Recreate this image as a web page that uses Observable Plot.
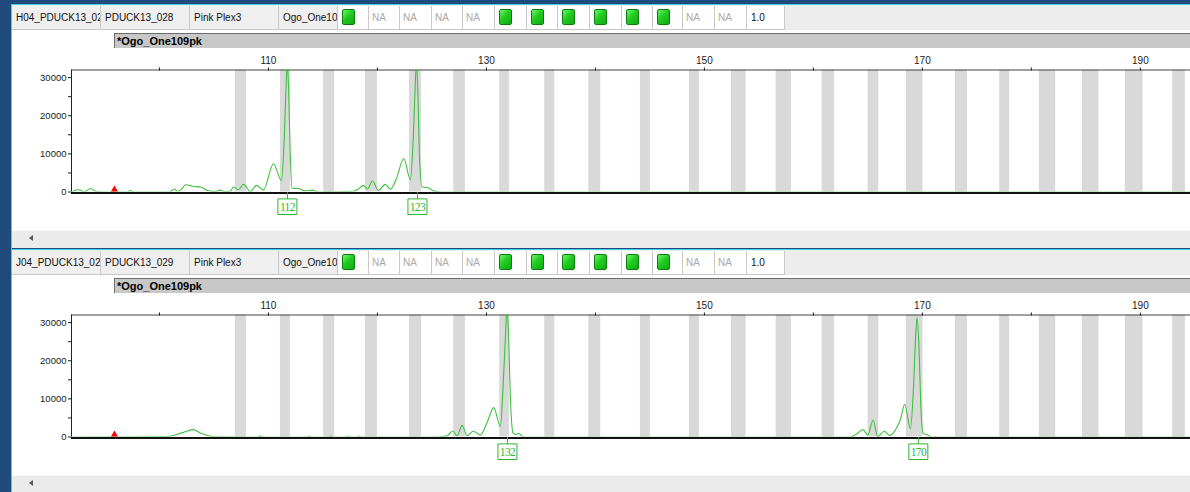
<!DOCTYPE html>
<html>
<head>
<meta charset="utf-8">
<script src="https://cdn.jsdelivr.net/npm/d3@7"></script>
<script src="https://cdn.jsdelivr.net/npm/@observablehq/plot@0.6"></script>
<style>
  body { margin:0; width:1190px; height:492px; background:#1f4a7c; position:relative; overflow:hidden;
         font-family:"Liberation Sans", Arial, sans-serif; }
  .abs { position:absolute; box-sizing:border-box; }
  .cell { position:absolute; box-sizing:border-box; height:24px; top:1px; border-right:1px solid #c9c9c9;
          border-bottom:1px solid #c9c9c9; font-size:10px; line-height:23px; padding-left:4px;
          white-space:nowrap; overflow:hidden; color:#111; }
  .grey { background:#efefef; }
  .white { background:#ffffff; }
  .na { color:#a9a9a9; padding-left:3px; }
  .icon { position:absolute; left:4px; top:3px; width:13px; height:16px; border-radius:2px;
          background:linear-gradient(135deg,#6cf56c 0%,#22cc22 45%,#13a813 100%); border:1px solid #0b7d0b; box-sizing:border-box; }
  .bar { background:#c8c8c8; border-top:1px solid #6d6d6d; border-left:1px solid #6d6d6d; font-weight:bold;
         font-size:11px; line-height:14px; padding-left:2px; color:#000; white-space:nowrap; }
  .scroll { background:#ebebeb; border-top:1px solid #f6f6f6; }
  .arrow { position:absolute; left:17px; top:4px; width:0; height:0; border-top:3.5px solid transparent;
           border-bottom:3.5px solid transparent; border-right:4px solid #555; }
  g[font-family="Liberation Serif"] text { letter-spacing:-0.6px; }
</style>
</head>
<body>
<script>
// ---------- data ----------
const sampleFiles = ["H04_PDUCK13_028", "J04_PDUCK13_029"];
const sampleNames = ["PDUCK13_028", "PDUCK13_029"];
const panelName = "Pink Plex3";
const markerName = "Ogo_One109pk";
const calls = ["G","NA","NA","NA","NA","G","G","G","G","G","G","NA","NA"];
const scoreText = "1.0";
const markerTitle = "*Ogo_One109pk";

const xTicks = [100,110,120,130,140,150,160,170,180,190];
const xTickLabels = [110,130,150,170,190];
const yTicks = [0,5000,10000,15000,20000,25000,30000];
const yTickLabels = [0,10000,20000,30000];
const xMin = 91.93, xMax = 194.6, yMax = 32000;

const binStart = [106.97,111.10,115.07,118.90,122.94,127.00,131.22,135.35,139.39,144.13,148.62,152.48,156.58,160.80,165.02,168.53,173.03,177.09,180.73,184.68,188.62,192.96];
const binEnd   = [107.98,112.02,116.08,120.00,124.04,128.07,132.11,136.27,140.49,145.05,149.54,153.83,157.98,161.95,166.00,170.06,174.13,178.01,182.23,186.21,190.25,194.13];

const markerSize = 95.87; // red triangle

const size1 = [91.93,92.57,93.12,93.67,94.22,94.8,97.06,97.34,97.61,100.9,101.38,101.65,102.02,102.39,103.03,103.76,104.4,105.14,105.6,105.96,106.5,106.79,107.25,107.71,108.35,108.9,109.54,110.46,111.19,111.45,111.62,111.72,111.85,112.0,112.17,112.75,113.39,114.04,114.59,117.8,118.26,118.72,119.08,119.54,120.09,120.73,121.19,121.74,122.41,123.03,123.3,123.48,123.58,123.7,123.86,124.1,124.68,125.14,125.78,194.6];
const rfu1  = [0,600,100,900,100,0,0,400,0,0,800,200,700,1900,1500,1300,400,100,500,100,200,1300,600,2000,100,1750,500,7400,3000,14000,28000,34000,27000,10000,1000,900,300,500,0,200,800,1750,800,2900,400,2000,700,3500,8800,3250,15000,29000,34000,27000,9000,1300,1100,300,0,0];
const peakPos1 = [111.74, 123.67];
const peakLabels1 = ["112", "123"];

const size2 = [91.93,100.73,101.28,102.11,103.09,103.76,104.4,104.95,109.0,109.27,109.55,113.5,113.7,113.9,115.5,115.7,115.9,117.1,117.3,117.5,118.1,118.3,118.5,125.5,126.4,126.91,127.31,127.77,128.23,128.78,129.45,130.09,130.67,131.28,131.56,131.77,131.9,132.05,132.2,132.45,132.66,132.97,133.42,163.39,163.94,164.56,164.98,165.48,165.9,166.51,167.0,167.68,167.98,168.38,168.9,169.17,169.39,169.51,169.68,169.86,170.06,170.49,170.89,194.6];
const rfu2  = [0,100,400,1150,1930,1050,400,100,0,300,0,0,250,0,0,250,0,0,250,0,0,250,0,0,300,1580,300,3060,300,1500,500,4000,7700,2800,15000,28000,34000,25000,10000,1000,700,900,0,0,700,1930,500,4400,100,1500,400,2600,4500,8600,2200,12000,27000,31300,24000,8000,1000,500,0,0];
const peakPos2 = [131.93, 169.63];
const peakLabels2 = ["132", "170"];

const panels = [
  {size: size1, rfu: rfu1, peakPos: peakPos1, peakLabels: peakLabels1},
  {size: size2, rfu: rfu2, peakPos: peakPos2, peakLabels: peakLabels2}
];

// ---------- layout chrome ----------
const cellEdges = [12,101,190,279,338,369,400,432,463,495,527,558,590,622,653,683,715,747,785];
const green = "#2fb52f";
const traceColor = "#3cc13c";

function el(cls, styles, parent, text) {
  const d = document.createElement("div");
  d.className = cls;
  Object.assign(d.style, styles);
  if (text != null) d.textContent = text;
  (parent || document.body).appendChild(d);
  return d;
}

// left cyan border
el("abs", {left:"11px", top:"4px", width:"1px", height:"488px", background:"#3fd0f0"});

const boxSymbol = {
  draw(ctx) {
    ctx.moveTo(0, -14.7);
    ctx.lineTo(0, -7.8);
    ctx.rect(-9.5, -7.8, 19, 15.6);
  }
};

panels.forEach((p, i) => {
  const o = i * 245;
  // cyan top line
  el("abs", {left:"11px", top:(4 + o) + "px", width:"1179px", height:"1px", background:"#3fd0f0"});
  // header row
  const hdr = el("abs", {left:"12px", top:(5 + o) + "px", width:"1178px", height:"25px", background:"#ececec"});
  const texts = [sampleFiles[i], sampleNames[i], panelName, markerName];
  for (let c = 0; c < cellEdges.length - 1; c++) {
    const left = cellEdges[c] - 12, w = cellEdges[c + 1] - cellEdges[c];
    const st = {left: left + "px", width: w + "px"};
    if (c < 4) {
      el("cell grey", st, hdr, texts[c]);
    } else if (c < 4 + calls.length) {
      const call = calls[c - 4];
      if (call === "G") {
        const cell = el("cell white", st, hdr);
        el("icon", {}, cell);
      } else {
        el("cell white na", st, hdr, "NA");
      }
    } else {
      el("cell white", st, hdr, scoreText);
    }
  }
  // white panel
  el("abs", {left:"12px", top:(30 + o) + "px", width:"1178px", height:"200px", background:"#ffffff"});
  // marker title bar
  el("abs bar", {left:"114px", top:(33 + o) + "px", width:"1076px", height:"15px"}, null, markerTitle);
  // scroll bar
  const sc = el("abs scroll", {left:"12px", top:(230 + o) + "px", width:"1178px", height:"18px"});
  el("arrow", {}, sc);

  // ---------- chart ----------
  const trace = p.size.map((s, k) => ({size: s, rfu: p.rfu[k]}));
  const bins = binStart.map((s, k) => ({start: s, end: binEnd[k]}));
  const peaks = p.peakPos.map((s, k) => ({size: s, label: p.peakLabels[k]}));

  const chart = Plot.plot({
    width: 1178,
    height: 182,
    marginLeft: 59,
    marginRight: 0,
    marginTop: 21.5,
    marginBottom: 38.5,
    x: {domain: [xMin, xMax]},
    y: {domain: [0, yMax]},
    style: {fontFamily: "'Liberation Sans', Arial, sans-serif", fontSize: "10px", background: "transparent", color: "#1a1a1a", overflow: "visible"},
    marks: [
      Plot.rect(bins, {x1: "start", x2: "end", fill: "#d9d9d9"}),
      Plot.ruleY([yMax], {stroke: "#444", strokeWidth: 1}),
      Plot.ruleX([xMin], {stroke: "#222", strokeWidth: 1}),
      Plot.ruleY([0], {stroke: "#111", strokeWidth: 2, dy: 1}),
      Plot.line(trace, {x: "size", y: "rfu", stroke: traceColor, strokeWidth: 1.1, curve: "monotone-x", clip: true}),
      Plot.dot([markerSize], {x: d => d, y: () => 0, symbol: "triangle2", fill: "#ff0000", r: 3.3, dy: -2.5}),
      Plot.axisX({anchor: "top", ticks: xTicks, tickFormat: d => xTickLabels.includes(d) ? String(d) : "", tickSize: 3, tickPadding: 3, fontSize: 10, label: null}),
      Plot.axisY({ticks: yTicks, tickFormat: d => yTickLabels.includes(d) ? String(d) : "", tickSize: 3, tickPadding: 2, fontSize: 9.5, label: null}),
      Plot.dot(peaks, {x: "size", frameAnchor: "bottom", dy: 14.7, symbol: boxSymbol, r: 1, stroke: green, fill: "white", strokeWidth: 1}),
      Plot.text(peaks, {x: "size", text: "label", frameAnchor: "bottom", dy: 15, lineAnchor: "middle", fill: green, fontFamily: "Liberation Serif", fontSize: 11.5})
    ]
  });
  chart.style.position = "absolute";
  chart.style.left = "12px";
  chart.style.top = (48 + o) + "px";
  document.body.appendChild(chart);
});
</script>
</body>
</html>
